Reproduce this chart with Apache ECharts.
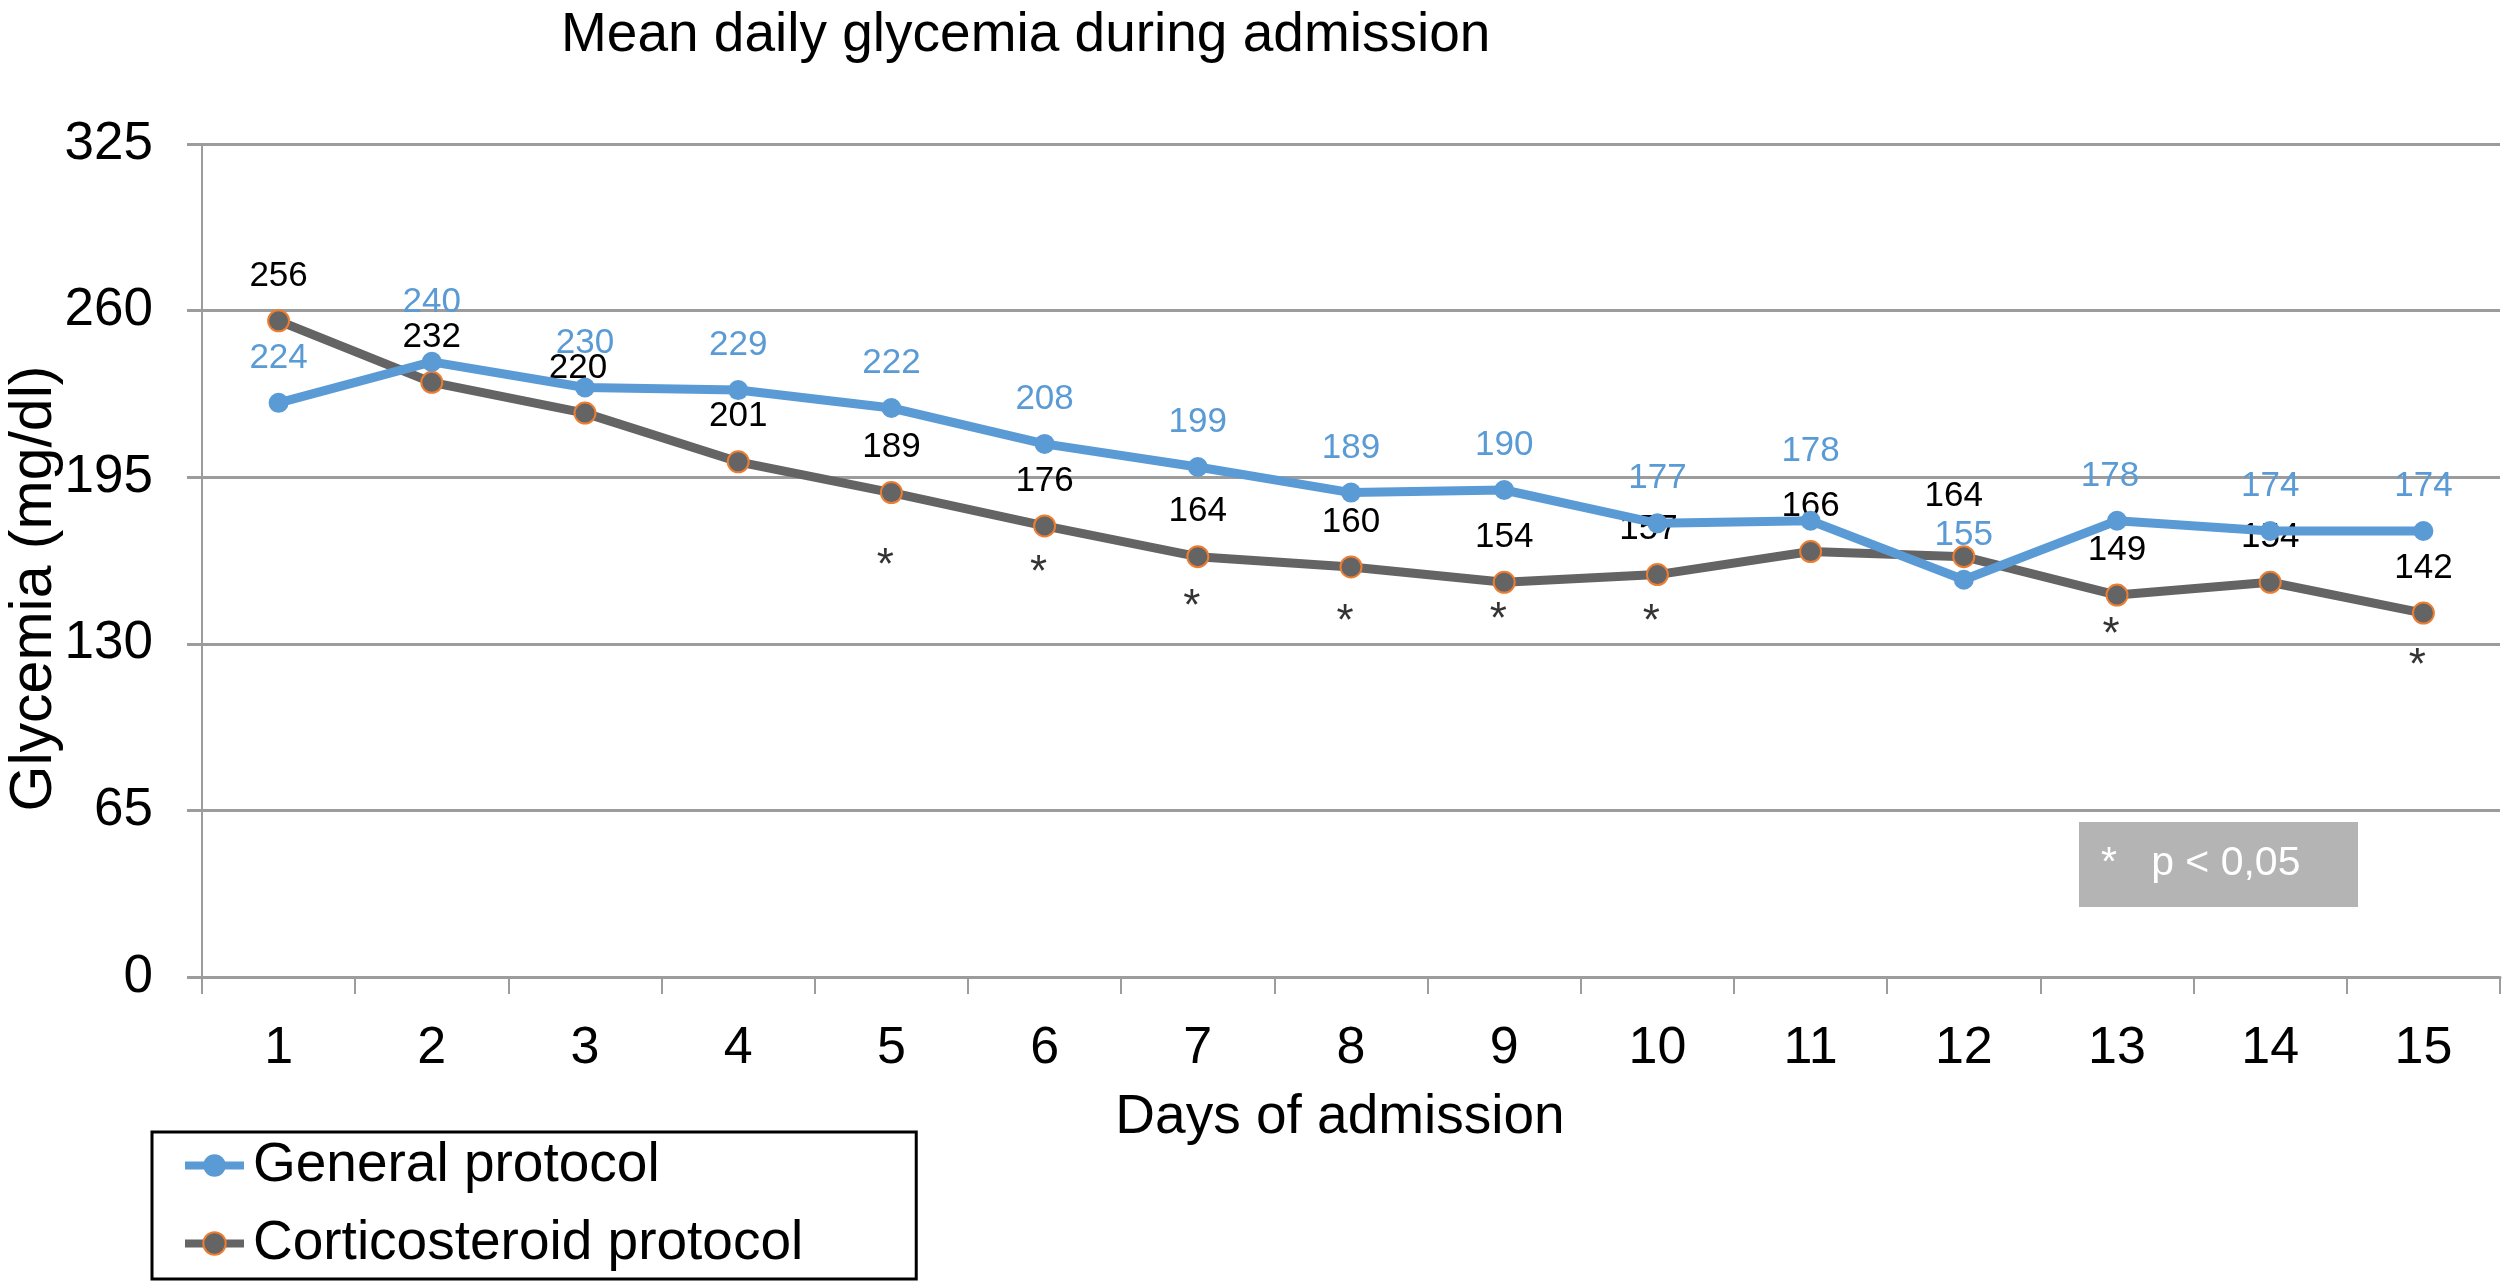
<!DOCTYPE html>
<html>
<head>
<meta charset="utf-8">
<script src="https://cdn.jsdelivr.net/npm/echarts@6/dist/echarts.min.js"></script>
<style>
  html, body { margin: 0; padding: 0; background: #fff; }
  #chart { width: 2507px; height: 1283px; }
</style>
</head>
<body>
<div id="chart"></div>
<script>
// ---- data ----
const days = ['1','2','3','4','5','6','7','8','9','10','11','12','13','14','15'];
const generalProtocol = [224,240,230,229,222,208,199,189,190,177,178,155,178,174,174];
const corticoProtocol = [256,232,220,201,189,176,164,160,154,157,166,164,149,154,142];
// days with p < 0.05 and the glycemia level where each asterisk sits
const sigDays = ['5','6','7','8','9','10','13','15'];
const sigMarkLevel = [164,161,148,142,143,142,137,125];
const yMin = 0, yMax = 325, yStep = 65;

// label nudges (pixels) for crowded labels
const generalLabelNudge = {1: [0, -15], 10: [0, -25], 12: [-7, 0]};
const corticoLabelNudge = {2: [-7, 0], 9: [-9, 0], 11: [-10, -15]};

const FONT = '"Liberation Sans", Arial, Helvetica, sans-serif';
const BLUE = '#5B9BD5';
const GRAY = '#646464';
const ORANGE = '#ED7D31';
const GRID = '#9C9C9C';

function buildItems(values, nudges) {
  return values.map((v, i) => nudges[i] ? {value: v, label: {offset: nudges[i]}} : v);
}

const chart = echarts.init(document.getElementById('chart'));
chart.setOption({
  backgroundColor: '#fff',
  animation: false,
  textStyle: {fontFamily: FONT},
  title: {
    text: 'Mean daily glycemia during admission',
    left: 556, top: 3,
    textStyle: {fontFamily: FONT, fontSize: 55, fontWeight: 'normal', color: '#000'}
  },
  grid: {left: 202, right: 7, top: 144, bottom: 306, containLabel: false, outerBoundsMode: 'none'},
  legend: {
    orient: 'vertical',
    left: 152, top: 1132,
    data: ['General protocol', 'Corticosteroid protocol'],
    borderColor: '#000', borderWidth: 3,
    padding: [6, 113, 8, 29],
    itemWidth: 59, itemHeight: 28, itemGap: 23,
    lineStyle: {width: 8},
    textStyle: {fontFamily: FONT, fontSize: 55, color: '#000', lineHeight: 55, padding: [0, 0, 0, 4]}
  },
  xAxis: {
    type: 'category',
    data: days,
    boundaryGap: true,
    name: 'Days of admission',
    nameLocation: 'middle',
    nameGap: 113,
    nameMoveOverlap: false,
    nameTextStyle: {fontFamily: FONT, fontSize: 55, color: '#000', padding: [0, 22, 0, 0]},
    axisLine: {show: true, lineStyle: {color: GRID, width: 3}},
    axisTick: {show: true, length: 17, lineStyle: {color: GRID, width: 2}},
    axisLabel: {fontFamily: FONT, fontSize: 52, color: '#000', margin: 46}
  },
  yAxis: {
    type: 'value',
    min: yMin, max: yMax, interval: yStep,
    name: 'Glycemia (mg/dl)',
    nameLocation: 'middle',
    nameGap: 138,
    nameRotate: 90,
    nameMoveOverlap: false,
    nameTextStyle: {fontFamily: FONT, fontSize: 59, color: '#000', padding: [0, 56, 0, 0]},
    axisLine: {show: true, lineStyle: {color: GRID, width: 2}},
    axisTick: {show: true, length: 15, lineStyle: {color: GRID, width: 3}},
    splitLine: {show: true, lineStyle: {color: GRID, width: 3}},
    axisLabel: {fontFamily: FONT, fontSize: 53, color: '#000', margin: 49}
  },
  graphic: [
    {type: 'rect', shape: {x: 2079, y: 822, width: 279, height: 85}, style: {fill: '#B4B4B4'}, z: 10},
    {type: 'text', x: 2101, y: 864, style: {text: '*   p < 0,05', fill: '#fff', font: '41px ' + FONT, textVerticalAlign: 'middle', verticalAlign: 'middle'}, z: 11}
  ],
  series: [
    {
      name: 'General protocol',
      type: 'line',
      data: buildItems(generalProtocol, generalLabelNudge),
      symbol: 'circle', symbolSize: 20,
      lineStyle: {color: BLUE, width: 9},
      itemStyle: {color: BLUE},
      label: {show: true, position: 'top', distance: 17, fontFamily: FONT, fontSize: 35, lineHeight: 35, color: BLUE},
      z: 3
    },
    {
      name: 'Corticosteroid protocol',
      type: 'line',
      data: buildItems(corticoProtocol, corticoLabelNudge),
      symbol: 'circle', symbolSize: 21,
      lineStyle: {color: GRAY, width: 9},
      itemStyle: {color: GRAY, borderColor: ORANGE, borderWidth: 2},
      label: {show: true, position: 'top', distance: 16, fontFamily: FONT, fontSize: 35, lineHeight: 35, color: '#000'},
      z: 2
    },
    {
      name: 'significance',
      type: 'scatter',
      data: sigDays.map((d, i) => [d, sigMarkLevel[i]]),
      symbol: 'circle', symbolSize: 2,
      itemStyle: {color: 'rgba(0,0,0,0)'},
      silent: true,
      label: {show: true, position: 'inside', formatter: '*', fontFamily: FONT, fontSize: 44, color: '#000', offset: [-6, 10]},
      z: 4
    }
  ]
});
</script>
</body>
</html>
